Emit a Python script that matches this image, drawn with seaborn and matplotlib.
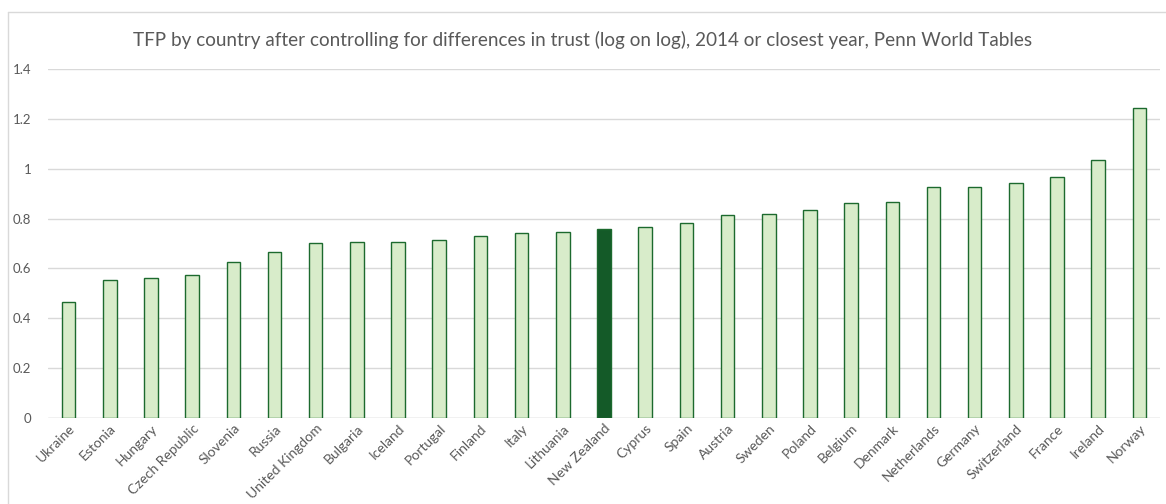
import matplotlib
matplotlib.use("Agg")
import matplotlib.pyplot as plt
import seaborn as sns
from matplotlib.lines import Line2D

countries = ["Ukraine", "Estonia", "Hungary", "Czech Republic", "Slovenia", "Russia",
             "United Kingdom", "Bulgaria", "Iceland", "Portugal", "Finland", "Italy",
             "Lithuania", "New Zealand", "Cyprus", "Spain", "Austria", "Sweden",
             "Poland", "Belgium", "Denmark", "Netherlands", "Germany", "Switzerland",
             "France", "Ireland", "Norway"]
values = [0.466, 0.552, 0.560, 0.574, 0.625, 0.667, 0.702, 0.705, 0.705, 0.715,
          0.731, 0.743, 0.745, 0.758, 0.765, 0.781, 0.815, 0.818, 0.836, 0.861,
          0.865, 0.928, 0.928, 0.944, 0.967, 1.035, 1.245]
yticks = [0, 0.2, 0.4, 0.6, 0.8, 1.0, 1.2, 1.4]
ytick_labels = ["0", "0.2", "0.4", "0.6", "0.8", "1", "1.2", "1.4"]
highlight = "New Zealand"
title = "TFP by country after controlling for differences in trust (log on log), 2014 or closest year, Penn World Tables"

sns.set_theme(style="white")
plt.rcParams['font.family'] = ['Lato', 'DejaVu Sans']

fill_light = "#D8ECCA"
edge_col = "#1C6A2E"
fill_dark = "#145A28"
text_col = "#595959"

fig = plt.figure(figsize=(11.66, 5.04), dpi=100)
ax = fig.add_axes([48/1166, 1-418/504, (1160-48)/1166, (418-69)/504])

palette = {c: (fill_dark if c == highlight else fill_light) for c in countries}
sns.barplot(x=countries, y=values, hue=countries, palette=palette, legend=False,
            width=0.33, ax=ax, saturation=1, edgecolor=edge_col, linewidth=1.0)

ax.set_ylim(0, 1.4)
ax.set_xlim(-0.5, len(countries) - 0.5)
ax.set_yticks(yticks)
ax.set_yticklabels(ytick_labels)
ax.yaxis.grid(True, color="#D9D9D9", linewidth=1.0)
ax.set_axisbelow(True)
for s in ax.spines.values():
    s.set_visible(False)
ax.axhline(0, color="#D9D9D9", linewidth=1.0, zorder=0.5)
ax.tick_params(axis="both", length=0, colors=text_col)
ax.tick_params(axis="y", labelsize=9.5, pad=12)
ax.tick_params(axis="x", labelsize=10, pad=3)
plt.setp(ax.get_xticklabels(), rotation=45, ha="right", rotation_mode="anchor")
ax.set_xlabel("")
ax.set_ylabel("")

fig.text(0.5, 1-40/504, title, ha="center", va="center", fontsize=13.6, color=text_col)

fig.add_artist(Line2D([8/1166, 8/1166], [0, 1-12/504], color="#D9D9D9", linewidth=1.0, transform=fig.transFigure))
fig.add_artist(Line2D([8/1166, 1], [1-12/504, 1-12/504], color="#D9D9D9", linewidth=1.0, transform=fig.transFigure))

fig.savefig("out.png", dpi=100, facecolor="white")
